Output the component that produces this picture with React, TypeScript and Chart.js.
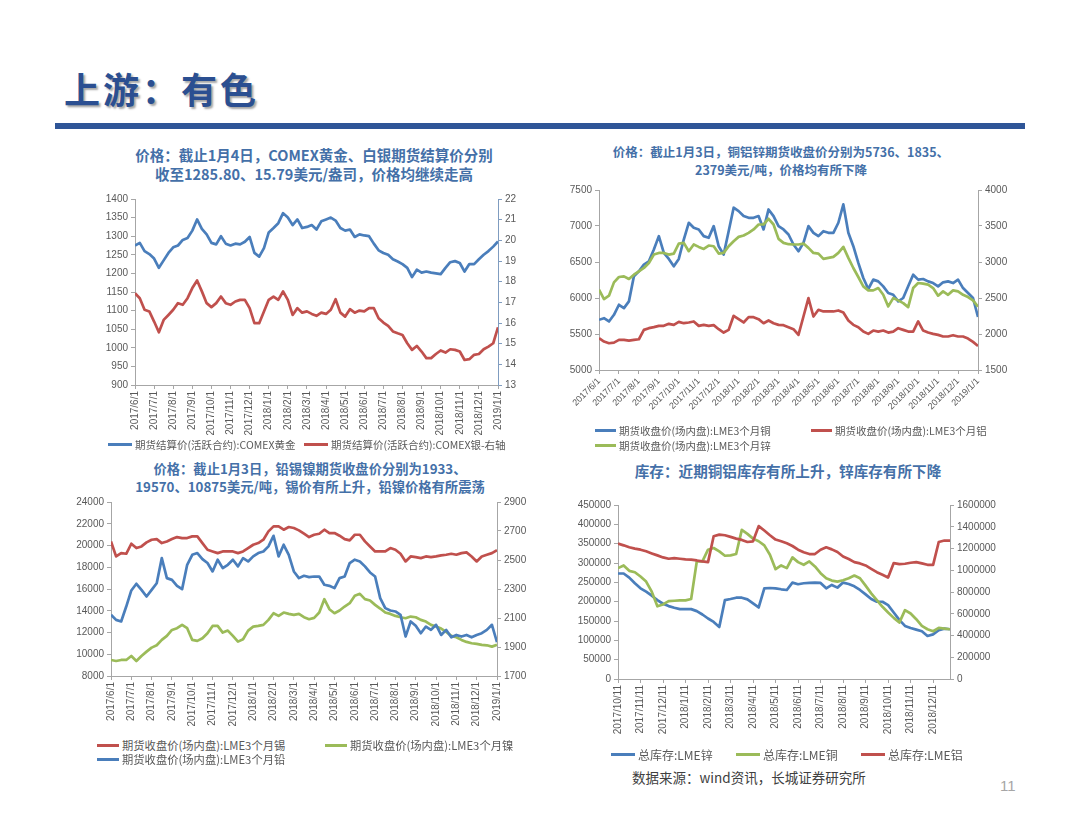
import React, { useEffect, useRef } from "react";
import { Chart, registerables } from "chart.js";

Chart.register(...registerables);

// ---------- data ----------
const PPM = 4; // weekly samples: 4 points per month

const monthTicks = [
  "2017/6/1", "2017/7/1", "2017/8/1", "2017/9/1", "2017/10/1", "2017/11/1", "2017/12/1",
  "2018/1/1", "2018/2/1", "2018/3/1", "2018/4/1", "2018/5/1", "2018/6/1", "2018/7/1",
  "2018/8/1", "2018/9/1", "2018/10/1", "2018/11/1", "2018/12/1", "2019/1/1",
];
const stockTicks = [
  "2017/10/11", "2017/11/11", "2017/12/11", "2018/1/11", "2018/2/11", "2018/3/11", "2018/4/11",
  "2018/5/11", "2018/6/11", "2018/7/11", "2018/8/11", "2018/9/11", "2018/10/11", "2018/11/11",
  "2018/12/11",
];

const goldPrice = [1275, 1282, 1260, 1252, 1240, 1215, 1235, 1255, 1270, 1275, 1290, 1295, 1315, 1345, 1320, 1305, 1282, 1278, 1300, 1280, 1275, 1280, 1278, 1285, 1298, 1255, 1245, 1268, 1310, 1322, 1335, 1362, 1350, 1330, 1345, 1322, 1325, 1330, 1318, 1340, 1345, 1350, 1342, 1322, 1315, 1318, 1298, 1305, 1302, 1300, 1280, 1262, 1255, 1250, 1238, 1232, 1225, 1215, 1190, 1210, 1202, 1205, 1202, 1200, 1198, 1215, 1230, 1233, 1228, 1205, 1225, 1225, 1238, 1250, 1260, 1272, 1286];
const silverPrice = [17.44, 17.2, 16.64, 16.56, 16.07, 15.55, 16.15, 16.39, 16.64, 16.96, 16.88, 17.2, 17.69, 18.06, 17.53, 16.96, 16.77, 16.96, 17.28, 16.96, 16.88, 17.04, 17.12, 17.12, 16.72, 15.99, 15.99, 16.56, 17.12, 17.28, 17.12, 17.53, 17.12, 16.39, 16.72, 16.5, 16.56, 16.44, 16.35, 16.5, 16.44, 16.64, 17.15, 16.5, 16.31, 16.67, 16.5, 16.6, 16.56, 16.72, 16.72, 16.23, 16.02, 15.86, 15.59, 15.5, 15.42, 15.02, 14.7, 14.89, 14.62, 14.3, 14.3, 14.5, 14.67, 14.57, 14.73, 14.7, 14.62, 14.21, 14.25, 14.46, 14.5, 14.73, 14.86, 15.02, 15.79];

const copperPrice = [5697, 5720, 5674, 5767, 5906, 5860, 5953, 6301, 6371, 6464, 6510, 6673, 6859, 6626, 6543, 6440, 6543, 6812, 7045, 6975, 6952, 6859, 6836, 6998, 6719, 6603, 6928, 7254, 7207, 7138, 7114, 7114, 7138, 6952, 7230, 7138, 6998, 6952, 6882, 6743, 6650, 6766, 6998, 6905, 6859, 6928, 6905, 6905, 7045, 7300, 6905, 6719, 6487, 6278, 6125, 6255, 6231, 6162, 6069, 6046, 5953, 6000, 6162, 6324, 6255, 6264, 6231, 6208, 6162, 6218, 6231, 6208, 6255, 6138, 6069, 6000, 5736];
const aluminumPrice = [1941, 1895, 1872, 1881, 1918, 1918, 1909, 1918, 1927, 2057, 2081, 2095, 2113, 2113, 2141, 2127, 2169, 2150, 2160, 2174, 2113, 2127, 2113, 2123, 2067, 2020, 2057, 2253, 2206, 2160, 2234, 2234, 2206, 2150, 2188, 2150, 2127, 2123, 2095, 2067, 1988, 2243, 2499, 2243, 2336, 2313, 2313, 2313, 2327, 2299, 2188, 2127, 2095, 2034, 2002, 2048, 2034, 2048, 2020, 2034, 2081, 2057, 2034, 2034, 2174, 2048, 2020, 2002, 1988, 1965, 1965, 1983, 1965, 1965, 1937, 1890, 1835];
const zincPrice = [2615, 2485, 2532, 2717, 2792, 2801, 2764, 2824, 2871, 2917, 2987, 3103, 3126, 3126, 3103, 3117, 3256, 3266, 3150, 3243, 3210, 3182, 3229, 3219, 3117, 3126, 3219, 3289, 3349, 3368, 3405, 3452, 3521, 3521, 3600, 3521, 3321, 3266, 3247, 3243, 3243, 3256, 3196, 3126, 3117, 3043, 3057, 3071, 3126, 3210, 3057, 2917, 2792, 2662, 2606, 2606, 2638, 2545, 2383, 2499, 2467, 2429, 2374, 2638, 2708, 2699, 2685, 2638, 2532, 2592, 2545, 2606, 2592, 2545, 2513, 2467, 2379];

const tinPrice = [20376, 18994, 19301, 19240, 20161, 19762, 19915, 20284, 20530, 20591, 20223, 20376, 20591, 20775, 20683, 20683, 20837, 20837, 20223, 19609, 19455, 19301, 19455, 19455, 19455, 19301, 19455, 19762, 20069, 20223, 20530, 21298, 21758, 21758, 21451, 21697, 21605, 21390, 21083, 20775, 20990, 21083, 21451, 21144, 21144, 20898, 20591, 20468, 20990, 20990, 20376, 19915, 19455, 19455, 19455, 19762, 19609, 19240, 18534, 18994, 18933, 18840, 18994, 18933, 18994, 19086, 19148, 19240, 19148, 19301, 19363, 18994, 18534, 18994, 19148, 19301, 19570];
const nickelPrice = [9474, 9382, 9474, 9474, 9843, 9382, 9843, 10242, 10610, 10825, 11317, 11685, 12238, 12392, 12699, 12392, 11317, 11225, 11470, 11931, 12606, 12606, 11992, 12177, 11685, 11163, 11378, 12177, 12545, 12606, 12699, 13160, 13774, 13528, 13835, 13712, 13620, 13712, 13405, 13221, 13344, 13835, 15064, 14142, 13774, 14019, 14388, 14695, 15371, 15555, 15064, 14941, 14542, 14204, 13835, 13712, 13528, 13405, 13313, 13466, 13405, 13160, 13006, 12699, 12545, 12361, 12054, 11685, 11562, 11317, 11133, 11010, 10948, 10856, 10825, 10702, 10875];
const leadPrice = [2122, 2087, 2076, 2179, 2290, 2336, 2294, 2248, 2294, 2340, 2513, 2375, 2363, 2322, 2299, 2467, 2536, 2548, 2506, 2479, 2421, 2502, 2444, 2467, 2502, 2456, 2513, 2490, 2525, 2548, 2559, 2594, 2667, 2525, 2605, 2536, 2421, 2375, 2391, 2382, 2386, 2386, 2329, 2322, 2306, 2375, 2386, 2479, 2502, 2490, 2456, 2414, 2386, 2237, 2168, 2152, 2145, 2122, 1972, 2076, 2046, 1995, 2041, 2018, 2053, 1983, 2018, 1967, 1983, 1972, 1983, 1967, 1983, 1995, 2018, 2053, 1933];

const zincStock = [272800, 272800, 262300, 247600, 234500, 225900, 215400, 204100, 194600, 188500, 184200, 180700, 180700, 180700, 175500, 166800, 156400, 147700, 134600, 204100, 206800, 210200, 210200, 205900, 195500, 185000, 234500, 235400, 234500, 232000, 230200, 249300, 245000, 247600, 248400, 249300, 248400, 234500, 243200, 236300, 249300, 245800, 239800, 230200, 218900, 206800, 199800, 199800, 191100, 172000, 152900, 137300, 132000, 127700, 123400, 111200, 115500, 126000, 130300, 128600];
const copperStock = [286700, 293600, 279700, 276200, 265000, 252000, 225900, 188000, 192900, 201500, 202400, 203300, 203300, 206800, 304000, 304000, 334400, 338800, 330100, 318800, 319700, 323200, 385700, 375300, 363100, 356200, 345700, 321400, 284100, 293600, 286700, 314500, 302300, 295400, 304000, 291000, 273600, 260600, 254500, 251900, 255400, 260600, 267600, 260600, 241500, 221500, 204100, 186800, 172000, 158100, 145900, 178100, 169400, 154600, 137300, 128600, 123400, 132000, 130300, 128600];
const aluminumStock = [1245000, 1229000, 1211000, 1199000, 1189000, 1174000, 1155000, 1137000, 1118000, 1106000, 1112000, 1106000, 1100000, 1097000, 1090000, 1081000, 1075000, 1313000, 1328000, 1322000, 1307000, 1291000, 1279000, 1260000, 1266000, 1406000, 1365000, 1322000, 1282000, 1266000, 1248000, 1223000, 1189000, 1165000, 1149000, 1149000, 1189000, 1211000, 1192000, 1168000, 1127000, 1103000, 1075000, 1063000, 1044000, 1013000, 982000, 958000, 933000, 1066000, 1056000, 1060000, 1069000, 1075000, 1063000, 1050000, 1050000, 1260000, 1273000, 1273000];

// ---------- styles ----------
const BLUE = "#4A7EBB";
const RED = "#C0504D";
const GREEN = "#9BBB59";
const TICK_COLOR = "#595959";
const AXIS_COLOR = "#A6A6A6";
const TITLE_COLOR = "#4470A8";
const FONT = "'Liberation Sans', Arial, sans-serif";
const CJK = "'Noto Sans CJK SC', 'Noto Sans', sans-serif";

type SeriesSpec = { label: string; values: number[]; color: string; axis: "yL" | "yR"; order: number };
type AxisSpec = { min: number; max: number; step: number; width: number; color: string };
type PanelSpec = {
  left: number; top: number; width: number; height: number;
  xLabels: string[]; xRotation: number; xHeight: number; xFontSize: number;
  yL: AxisSpec; yR: AxisSpec; series: SeriesSpec[]; fontSize: number;
};

const panel1: PanelSpec = {
  left: 80, top: 189, width: 448, height: 251,
  xLabels: monthTicks, xRotation: 90, xHeight: 55, fontSize: 10, xFontSize: 10,
  yL: { min: 900, max: 1400, step: 50, width: 55, color: AXIS_COLOR },
  yR: { min: 13, max: 22, step: 1, width: 30, color: "#7F9CC0" },
  series: [
    { label: "期货结算价(活跃合约):COMEX黄金", values: goldPrice, color: BLUE, axis: "yL", order: 2 },
    { label: "期货结算价(活跃合约):COMEX银-右轴", values: silverPrice, color: RED, axis: "yR", order: 1 },
  ],
};
const panel2: PanelSpec = {
  left: 545, top: 180, width: 468, height: 235,
  xLabels: monthTicks, xRotation: 45, xHeight: 45, fontSize: 10, xFontSize: 9,
  yL: { min: 5000, max: 7500, step: 500, width: 54, color: AXIS_COLOR },
  yR: { min: 1500, max: 4000, step: 500, width: 35, color: AXIS_COLOR },
  series: [
    { label: "期货收盘价(场内盘):LME3个月铜", values: copperPrice, color: BLUE, axis: "yL", order: 3 },
    { label: "期货收盘价(场内盘):LME3个月铝", values: aluminumPrice, color: RED, axis: "yR", order: 2 },
    { label: "期货收盘价(场内盘):LME3个月锌", values: zincPrice, color: GREEN, axis: "yR", order: 1 },
  ],
};
const panel3: PanelSpec = {
  left: 55, top: 492, width: 480, height: 242,
  xLabels: monthTicks, xRotation: 90, xHeight: 58, fontSize: 10, xFontSize: 10,
  yL: { min: 8000, max: 24000, step: 2000, width: 56, color: AXIS_COLOR },
  yR: { min: 1700, max: 2900, step: 200, width: 38, color: AXIS_COLOR },
  series: [
    { label: "期货收盘价(场内盘):LME3个月锡", values: tinPrice, color: RED, axis: "yL", order: 3 },
    { label: "期货收盘价(场内盘):LME3个月镍", values: nickelPrice, color: GREEN, axis: "yL", order: 2 },
    { label: "期货收盘价(场内盘):LME3个月铅", values: leadPrice, color: BLUE, axis: "yR", order: 1 },
  ],
};
const panel4: PanelSpec = {
  left: 558, top: 495, width: 452, height: 244,
  xLabels: stockTicks, xRotation: 90, xHeight: 60, fontSize: 10, xFontSize: 10,
  yL: { min: 0, max: 450000, step: 50000, width: 60, color: AXIS_COLOR },
  yR: { min: 0, max: 1600000, step: 200000, width: 60, color: AXIS_COLOR },
  series: [
    { label: "总库存:LME锌", values: zincStock, color: BLUE, axis: "yL", order: 3 },
    { label: "总库存:LME铜", values: copperStock, color: GREEN, axis: "yL", order: 2 },
    { label: "总库存:LME铝", values: aluminumStock, color: RED, axis: "yR", order: 1 },
  ],
};

function ChartPanel({ spec }: { spec: PanelSpec }) {
  const ref = useRef<HTMLCanvasElement>(null);
  useEffect(() => {
    const canvas = ref.current;
    if (!canvas) return;
    const tickFont = { family: FONT, size: spec.fontSize };
    const yAxis = (a: AxisSpec, position: "left" | "right") => ({
      type: "linear" as const,
      position,
      min: a.min,
      max: a.max,
      afterFit: (s: any) => { s.width = a.width; },
      ticks: { stepSize: a.step, color: TICK_COLOR, font: tickFont, padding: 3, callback: (v: any) => String(v) },
      grid: { display: true, drawOnChartArea: false, drawTicks: true, tickLength: 4, color: a.color },
      border: { display: true, color: a.color, width: 1 },
    });
    const n = Math.max(...spec.series.map((s) => s.values.length));
    const chart = new Chart(canvas, {
      type: "line",
      data: {
        datasets: spec.series.map((s) => ({
          label: s.label,
          data: s.values.map((v, i) => ({ x: i / PPM, y: v })),
          borderColor: s.color,
          backgroundColor: s.color,
          borderWidth: 2.7,
          pointRadius: 0,
          tension: 0,
          yAxisID: s.axis,
          order: s.order,
          borderJoinStyle: "round" as const,
        })),
      },
      options: {
        responsive: false,
        maintainAspectRatio: false,
        animation: false,
        events: [],
        layout: { padding: { top: 10, left: 0, right: 0, bottom: 0 } },
        plugins: { legend: { display: false }, tooltip: { enabled: false } },
        scales: {
          x: {
            type: "linear",
            min: 0,
            max: (n - 1) / PPM,
            afterFit: (s: any) => { s.height = spec.xHeight; },
            ticks: {
              stepSize: 1,
              autoSkip: false,
              includeBounds: false,
              maxRotation: spec.xRotation,
              minRotation: spec.xRotation,
              color: TICK_COLOR,
              font: { family: FONT, size: spec.xFontSize },
              padding: 2,
              callback: (v: any) => {
                const k = Math.round(Number(v));
                return Math.abs(Number(v) - k) < 1e-6 ? spec.xLabels[k] ?? "" : "";
              },
            },
            grid: { display: true, drawOnChartArea: false, drawTicks: true, tickLength: 4, color: AXIS_COLOR },
            border: { display: true, color: AXIS_COLOR, width: 1 },
          },
          yL: yAxis(spec.yL, "left"),
          yR: yAxis(spec.yR, "right"),
        },
      } as any,
    });
    return () => chart.destroy();
  }, [spec]);
  return (
    <canvas
      ref={ref}
      width={spec.width}
      height={spec.height}
      style={{ position: "absolute", left: spec.left, top: spec.top, width: spec.width, height: spec.height }}
    />
  );
}

function Title({ cx, top, size, lh, lines }: { cx: number; top: number; size: number; lh: number; lines: string[] }) {
  return (
    <div
      style={{
        position: "absolute", left: cx - 260, top, width: 520, textAlign: "center",
        fontFamily: CJK, fontWeight: 700, fontSize: size, lineHeight: `${lh}px`, color: TITLE_COLOR, whiteSpace: "nowrap",
      }}
    >
      {lines.map((l, i) => (<div key={i}>{l}</div>))}
    </div>
  );
}

function LegendItem({ x, y, color, text, size, lineW }: { x: number; y: number; color: string; text: string; size: number; lineW: number }) {
  const lh = Math.round(size * 1.4);
  return (
    <div
      style={{
        position: "absolute", left: x, top: y - lh / 2, height: lh, display: "flex", alignItems: "center",
        whiteSpace: "nowrap", fontFamily: CJK, fontSize: size, lineHeight: `${lh}px`, color: "#595959",
      }}
    >
      <span style={{ display: "inline-block", width: lineW, height: 3, background: color, marginRight: 3 }} />
      <span>{text}</span>
    </div>
  );
}

export default function App() {
  return (
    <div style={{ position: "absolute", left: 0, top: 0, width: 1080, height: 820, background: "#fff", overflow: "hidden" }}>
      <div
        style={{
          position: "absolute", left: 64, top: 64, fontFamily: CJK, fontWeight: 700, fontSize: 36, lineHeight: "48px",
          color: "#2B4F91", textShadow: "2px 2px 2px rgba(0,0,0,0.35)", letterSpacing: 3,
        }}
      >
        上游：有色
      </div>
      <div style={{ position: "absolute", left: 55, top: 123, width: 970, height: 6, background: "#2F5597" }} />

      <Title cx={314} top={146} size={14.5} lh={18.5} lines={["价格：截止1月4日，COMEX黄金、白银期货结算价分别", "收至1285.80、15.79美元/盎司，价格均继续走高"]} />
      <Title cx={781} top={143} size={12.5} lh={17.6} lines={["价格：截止1月3日，铜铝锌期货收盘价分别为5736、1835、", "2379美元/吨，价格均有所下降"]} />
      <Title cx={310} top={460} size={13.3} lh={17.7} lines={["价格：截止1月3日，铅锡镍期货收盘价分别为1933、", "19570、10875美元/吨，锡价有所上升，铅镍价格有所震荡"]} />
      <Title cx={788} top={462} size={14.6} lh={18} lines={["库存：近期铜铝库存有所上升，锌库存有所下降"]} />

      <ChartPanel spec={panel1} />
      <ChartPanel spec={panel2} />
      <ChartPanel spec={panel3} />
      <ChartPanel spec={panel4} />

      <LegendItem x={108} y={444} color={BLUE} text={panel1.series[0].label} size={10.5} lineW={24} />
      <LegendItem x={304} y={444} color={RED} text={panel1.series[1].label} size={10.5} lineW={24} />

      <LegendItem x={595} y={430} color={BLUE} text={panel2.series[0].label} size={10.5} lineW={21} />
      <LegendItem x={811} y={430} color={RED} text={panel2.series[1].label} size={10.5} lineW={21} />
      <LegendItem x={595} y={445} color={GREEN} text={panel2.series[2].label} size={10.5} lineW={21} />

      <LegendItem x={97} y={745} color={RED} text={panel3.series[0].label} size={11.3} lineW={22} />
      <LegendItem x={325} y={745} color={GREEN} text={panel3.series[1].label} size={11.3} lineW={22} />
      <LegendItem x={97} y={759} color={BLUE} text={panel3.series[2].label} size={11.3} lineW={22} />

      <LegendItem x={611} y={754} color={BLUE} text={panel4.series[0].label} size={12} lineW={24} />
      <LegendItem x={736} y={754} color={GREEN} text={panel4.series[1].label} size={12} lineW={24} />
      <LegendItem x={861} y={754} color={RED} text={panel4.series[2].label} size={12} lineW={24} />

      <div style={{ position: "absolute", left: 632, top: 768, fontFamily: CJK, fontSize: 13.5, lineHeight: "18px", color: "#404040", whiteSpace: "nowrap" }}>
        数据来源：wind资讯，长城证券研究所
      </div>
      <div style={{ position: "absolute", left: 1000, top: 777, fontFamily: FONT, fontSize: 15, lineHeight: "18px", color: "#A6A6A6" }}>
        11
      </div>
    </div>
  );
}
